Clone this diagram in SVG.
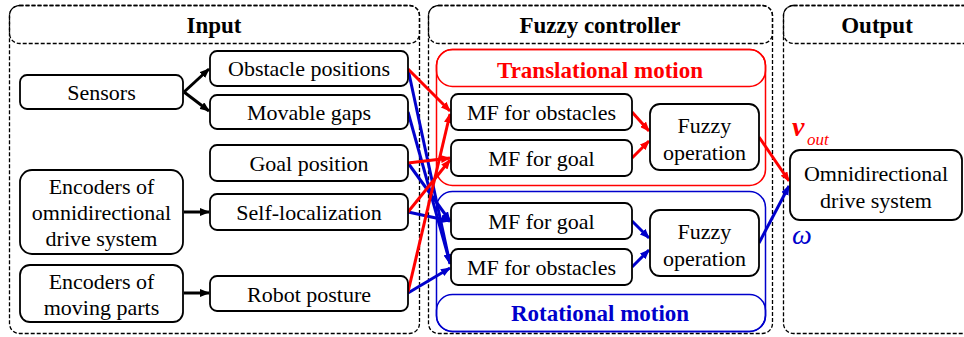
<svg xmlns="http://www.w3.org/2000/svg" width="964" height="337" viewBox="0 0 964 337">
<defs>
<marker id="ak" markerWidth="10" markerHeight="8" refX="9" refY="4" orient="auto" markerUnits="userSpaceOnUse"><path d="M0,0 L10,4 L0,8 z" fill="#000"/></marker>
<marker id="ar" markerWidth="10" markerHeight="8" refX="9" refY="4" orient="auto" markerUnits="userSpaceOnUse"><path d="M0,0 L10,4 L0,8 z" fill="#f00"/></marker>
<marker id="ab" markerWidth="10" markerHeight="8" refX="9" refY="4" orient="auto" markerUnits="userSpaceOnUse"><path d="M0,0 L10,4 L0,8 z" fill="#00c"/></marker>
</defs>
<g id="panels" fill="none" stroke="#000" stroke-width="1.3" stroke-dasharray="4 2">
<rect x="9.5" y="5.5" width="410" height="328" rx="10"/>
<rect x="9.5" y="5.5" width="410" height="38" rx="10"/>
<rect x="428.5" y="5.5" width="344" height="328" rx="10"/>
<rect x="428.5" y="5.5" width="344" height="38" rx="10"/>
<rect x="783.5" y="5.5" width="190" height="328" rx="10"/>
<rect x="783.5" y="5.5" width="190" height="38" rx="10"/>
</g>
<g id="groups" fill="none" stroke-width="1.5">
<rect x="436.5" y="49.5" width="329" height="136" rx="16" stroke="#f00"/>
<rect x="436.5" y="49.5" width="329" height="37" rx="16" stroke="#f00"/>
<rect x="436.5" y="191.5" width="329" height="140" rx="16" stroke="#00c"/>
<rect x="436.5" y="294.5" width="329" height="37" rx="16" stroke="#00c"/>
</g>
<g id="headers">
<text x="214" y="33" font-family="Liberation Serif" font-size="23" font-weight="bold" text-anchor="middle">Input</text>
<text x="600" y="33" font-family="Liberation Serif" font-size="23" font-weight="bold" text-anchor="middle">Fuzzy controller</text>
<text x="877" y="33" font-family="Liberation Serif" font-size="23" font-weight="bold" text-anchor="middle">Output</text>
<text x="600" y="78" font-family="Liberation Serif" font-size="23" font-weight="bold" text-anchor="middle" fill="#f00">Translational motion</text>
<text x="600" y="321" font-family="Liberation Serif" font-size="23" font-weight="bold" text-anchor="middle" fill="#00c">Rotational motion</text>
</g>
<g id="connectors" fill="none" stroke-width="3">
<g stroke="#000" marker-end="url(#ak)">
<path d="M184,92 L209,69"/>
<path d="M184,92 L209,111"/>
<path d="M184,212 L209,212"/>
<path d="M184,293 L209,293"/>
</g>
<g stroke="#00c" marker-end="url(#ab)">
<path d="M408,69 L450,264"/>
<path d="M408,112 L450,263"/>
<path d="M408,163 L450,221"/>
<path d="M408,212 L450,221"/>
<path d="M408,293 L450,268"/>
<path d="M632,221 L649,238"/>
<path d="M632,267 L649,250"/>
<path d="M759,243 L789,186"/>
</g>
<g stroke="#f00" marker-end="url(#ar)">
<path d="M408,69 L450,111"/>
<path d="M408,163 L450,158"/>
<path d="M408,212 L450,160"/>
<path d="M408,292 L450,114"/>
<path d="M632,112 L649,131"/>
<path d="M632,158 L649,141"/>
<path d="M759,137 L789,181"/>
</g>
</g>
<g fill="#fff" stroke="#000" stroke-width="1.8">
<g id="n-sensors"><rect x="20" y="75" width="163" height="34" rx="7"/></g>
<g id="n-obstacle-positions"><rect x="210" y="51" width="198" height="35" rx="7"/></g>
<g id="n-movable-gaps"><rect x="210" y="95" width="198" height="34" rx="7"/></g>
<g id="n-goal-position"><rect x="210" y="145" width="198" height="36" rx="7"/></g>
<g id="n-enc-omni"><rect x="20" y="170" width="163" height="84" rx="12"/></g>
<g id="n-self-localization"><rect x="210" y="194" width="198" height="36" rx="7"/></g>
<g id="n-enc-moving"><rect x="20" y="265" width="163" height="57" rx="10"/></g>
<g id="n-robot-posture"><rect x="210" y="276" width="198" height="35" rx="7"/></g>
<g id="n-mf-obst-t"><rect x="451" y="94" width="181" height="36" rx="7"/></g>
<g id="n-mf-goal-t"><rect x="451" y="140" width="181" height="36" rx="7"/></g>
<g id="n-fuzzy-t"><rect x="650" y="104" width="109" height="66" rx="10"/></g>
<g id="n-mf-goal-r"><rect x="451" y="203" width="181" height="36" rx="7"/></g>
<g id="n-mf-obst-r"><rect x="451" y="249" width="181" height="36" rx="7"/></g>
<g id="n-fuzzy-r"><rect x="650" y="210" width="109" height="66" rx="10"/></g>
<g id="n-omni"><rect x="790" y="150" width="172" height="70" rx="10"/></g>
</g>
<g id="node-labels">
<text x="101.5" y="100" font-family="Liberation Serif" font-size="22" text-anchor="middle">Sensors</text>
<text x="309" y="76" font-family="Liberation Serif" font-size="22" text-anchor="middle">Obstacle positions</text>
<text x="309" y="120" font-family="Liberation Serif" font-size="22" text-anchor="middle">Movable gaps</text>
<text x="309" y="171" font-family="Liberation Serif" font-size="22" text-anchor="middle">Goal position</text>
<text x="101.5" y="194" font-family="Liberation Serif" font-size="22" text-anchor="middle">Encoders of</text>
<text x="101.5" y="220" font-family="Liberation Serif" font-size="22" text-anchor="middle">omnidirectional</text>
<text x="101.5" y="246" font-family="Liberation Serif" font-size="22" text-anchor="middle">drive system</text>
<text x="309" y="220" font-family="Liberation Serif" font-size="22" text-anchor="middle">Self-localization</text>
<text x="101.5" y="289" font-family="Liberation Serif" font-size="22" text-anchor="middle">Encoders of</text>
<text x="101.5" y="315" font-family="Liberation Serif" font-size="22" text-anchor="middle">moving parts</text>
<text x="309" y="302" font-family="Liberation Serif" font-size="22" text-anchor="middle">Robot posture</text>
<text x="541.5" y="120" font-family="Liberation Serif" font-size="22" text-anchor="middle">MF for obstacles</text>
<text x="541.5" y="166" font-family="Liberation Serif" font-size="22" text-anchor="middle">MF for goal</text>
<text x="704.5" y="133" font-family="Liberation Serif" font-size="22" text-anchor="middle">Fuzzy</text>
<text x="704.5" y="160" font-family="Liberation Serif" font-size="22" text-anchor="middle">operation</text>
<text x="541.5" y="229" font-family="Liberation Serif" font-size="22" text-anchor="middle">MF for goal</text>
<text x="541.5" y="275" font-family="Liberation Serif" font-size="22" text-anchor="middle">MF for obstacles</text>
<text x="704.5" y="239" font-family="Liberation Serif" font-size="22" text-anchor="middle">Fuzzy</text>
<text x="704.5" y="266" font-family="Liberation Serif" font-size="22" text-anchor="middle">operation</text>
<text x="876" y="181" font-family="Liberation Serif" font-size="22" text-anchor="middle">Omnidirectional</text>
<text x="876" y="208" font-family="Liberation Serif" font-size="22" text-anchor="middle">drive system</text>
<text x="792" y="136" font-family="Liberation Serif" font-size="28" font-weight="bold" font-style="italic" fill="#f00">v</text>
<text x="807" y="145" font-family="Liberation Serif" font-size="17" font-style="italic" fill="#f00">out</text>
<text x="792" y="244" font-family="Liberation Serif" font-size="28" font-style="italic" fill="#00c">ω</text>
</g>
</svg>
